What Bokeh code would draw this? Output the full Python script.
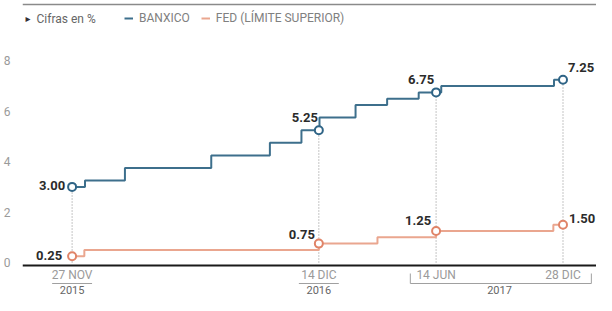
from datetime import datetime, timedelta

from bokeh.plotting import figure
from bokeh.models import (ColumnDataSource, FixedTicker, Legend, LegendItem,
                          Label, Span, Range1d)
from bokeh.core.properties import value
from bokeh.embed import file_html
from bokeh.resources import INLINE

# ---------------- data ----------------
banxico_dates = ["2015-11-27", "2015-12-17", "2016-02-17", "2016-06-30",
                 "2016-09-29", "2016-11-17", "2016-12-15", "2017-02-09",
                 "2017-03-30", "2017-05-18", "2017-06-22", "2017-12-14",
                 "2017-12-28"]
banxico_rates = [3.00, 3.25, 3.75, 4.25, 4.75, 5.25, 5.75, 6.25,
                 6.50, 6.75, 7.00, 7.25, 7.25]

fed_dates = ["2015-11-27", "2015-12-16", "2016-12-14", "2017-03-15",
             "2017-06-14", "2017-12-13", "2017-12-28"]
fed_rates = [0.25, 0.50, 0.75, 1.00, 1.25, 1.50, 1.50]

marker_dates = ["2015-11-27", "2016-12-14", "2017-06-14", "2017-12-28"]
banxico_marked = [3.00, 5.25, 6.75, 7.25]
fed_marked = [0.25, 0.75, 1.25, 1.50]

date_labels = ["27 NOV", "14 DIC", "14 JUN", "28 DIC"]
year_labels = ["2015", "2016", "2017"]
y_ticks = [0, 2, 4, 6, 8]

title_note = "Cifras en %"
banxico_name = "BANXICO"
fed_name = "FED (L\u00cdMITE SUPERIOR)"

# ---------------- styles ----------------
BLUE = "#3d6f8c"
BLUE_MK = "#2f6486"
ORANGE = "#eaa68f"
ORANGE_MK = "#e08468"
GREY = "#9a9a9a"
DARK = "#2b2b2b"
FONT = value("Roboto")

W, H = 596, 295
LEFT = 20
BASE_PX = 262.0     # pixel row of value 0
PX_PER_UNIT = 25.2
Y1 = BASE_PX / PX_PER_UNIT
Y0 = -(H - BASE_PX) / PX_PER_UNIT
PXU = 1.0 / PX_PER_UNIT


def d(s):
    return datetime.strptime(s, "%Y-%m-%d")


bx = [d(s) for s in banxico_dates]
fx = [d(s) for s in fed_dates]
mx = [d(s) for s in marker_dates]

p = figure(width=W, height=H, output_backend="svg", toolbar_location=None,
           x_axis_type="datetime",
           x_range=Range1d(mx[0] - timedelta(days=77), mx[-1] + timedelta(days=52)),
           y_range=Range1d(Y0, Y1),
           min_border_left=LEFT, min_border_right=0, min_border_top=0,
           min_border_bottom=0)
p.xaxis.visible = False
p.xgrid.visible = False
p.ygrid.visible = False
p.outline_line_color = None
p.background_fill_color = "white"
p.border_fill_color = "white"

ya = p.yaxis[0]
ya.ticker = FixedTicker(ticks=y_ticks)
ya.axis_line_color = None
ya.major_tick_line_color = None
ya.minor_tick_line_color = None
ya.major_label_text_color = GREY
ya.major_label_text_font = "Roboto"
ya.major_label_text_font_size = "12px"
ya.major_label_standoff = 6

# baseline + top rule
p.add_layout(Span(location=-3 * PXU, dimension="width", line_color="#1a1a1a",
                  line_width=2))
p.add_layout(Span(location=Y1 - 4 * PXU, dimension="width",
                  line_color="#8a8a8a", line_width=1.5))

# dotted guides
p.segment(x0=mx, y0=[0] * len(mx), x1=mx, y1=banxico_marked,
          line_color="#8a8a8a", line_width=1, line_dash="1 2")

# step lines
r_bx = p.step(bx, banxico_rates, mode="after", line_color=BLUE, line_width=2)
r_fed = p.step(fx, fed_rates, mode="after", line_color=ORANGE, line_width=2)

# markers
p.scatter(mx, banxico_marked, size=8, fill_color="white",
          line_color=BLUE_MK, line_width=2)
p.scatter(mx, fed_marked, size=8, fill_color="white",
          line_color=ORANGE_MK, line_width=2)

# value labels
fmt = ["{:.2f}".format(v) for v in banxico_marked]
src_b = ColumnDataSource(dict(
    x=mx, y=banxico_marked, t=fmt,
    align=["right", "right", "right", "left"],
    xo=[-7, -1, -2, 5], yo=[-1, -13, -13, -12]))
p.text(x="x", y="y", text="t", source=src_b, text_align="align",
       x_offset="xo", y_offset="yo", text_baseline="middle",
       text_font=FONT, text_font_style="bold", text_font_size="13px",
       text_color=DARK)

fmt_f = ["{:.2f}".format(v) for v in fed_marked]
src_f = ColumnDataSource(dict(
    x=mx, y=fed_marked, t=fmt_f,
    align=["right", "right", "right", "left"],
    xo=[-10, -4, -5, 6], yo=[-1, -9, -11, -6]))
p.text(x="x", y="y", text="t", source=src_f, text_align="align",
       x_offset="xo", y_offset="yo", text_baseline="middle",
       text_font=FONT, text_font_style="bold", text_font_size="13px",
       text_color=DARK)

# date labels below baseline
p.text(x=mx, y=[0] * len(mx), text=date_labels, text_align="center",
       text_baseline="middle", y_offset=12, text_font=FONT,
       text_font_size="12px", text_color=GREY)

# underlines for single-date years
ul_x = mx[:2]
p.segment(x0=[x - timedelta(days=31) for x in ul_x], y0=[-21 * PXU] * 2,
          x1=[x + timedelta(days=31) for x in ul_x], y1=[-21 * PXU] * 2,
          line_color="#a0a0a0", line_width=1)

# bracket for 2017
bl = mx[2] - timedelta(days=40)
br = mx[3] + timedelta(days=44)
p.segment(x0=[bl, br, bl], y0=[-11 * PXU, -11 * PXU, -21 * PXU],
          x1=[bl, br, br], y1=[-21 * PXU, -21 * PXU, -21 * PXU],
          line_color="#a0a0a0", line_width=1)

year_x = [mx[0], mx[1], mx[2] + (mx[3] - mx[2]) / 2]
p.text(x=year_x, y=[0] * 3, text=year_labels, text_align="center",
       text_baseline="middle", y_offset=27, text_font=FONT,
       text_font_size="11px", text_color="#666666")

# legend
legend = Legend(items=[LegendItem(label=banxico_name, renderers=[r_bx]),
                       LegendItem(label=fed_name, renderers=[r_fed])],
                orientation="horizontal", location=(102, 270),
                padding=0, margin=0, spacing=11, glyph_width=9,
                glyph_height=12, label_height=12, label_standoff=6,
                label_text_font="Roboto", label_text_font_size="12px",
                label_text_color="#808080", border_line_color=None,
                background_fill_alpha=0)
p.add_layout(legend)

# "Cifras en %" note with a small pointer (canvas-relative screen units)
p.add_layout(Label(x=3, y=277, x_units="screen", y_units="screen",
                   text="\u25b8", text_font="DejaVu Sans",
                   text_font_size="10px", text_color="#333333",
                   text_baseline="middle"))
p.add_layout(Label(x=14, y=277, x_units="screen", y_units="screen",
                   text=title_note, text_font="Roboto", text_font_size="12px",
                   text_color="#666666", text_baseline="middle"))

open("out.html", "w").write(file_html(p, INLINE))
